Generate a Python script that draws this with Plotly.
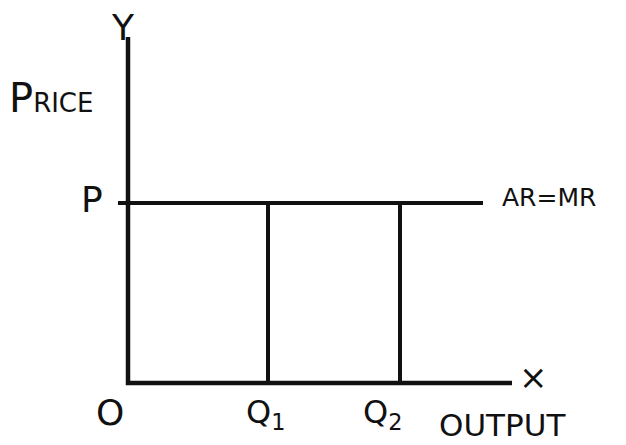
import plotly.graph_objects as go

# schematic values (origin O at 0,0)
price_p = 180
q_values = [140, 272]
q_labels = ["Q<sub>1</sub>", "Q<sub>2</sub>"]
x_axis_end = 384
y_axis_end = 346
ar_mr_end = 355

ink = "#111111"
font = "DejaVu Sans, Liberation Sans, sans-serif"

fig = go.Figure()

# axes
fig.add_trace(go.Scatter(x=[0, 0, x_axis_end], y=[y_axis_end, 0, 0], mode="lines",
                         line=dict(color=ink, width=4.5)))
# AR = MR line
fig.add_trace(go.Scatter(x=[-10, ar_mr_end], y=[price_p, price_p], mode="lines",
                         line=dict(color=ink, width=4)))
# verticals at Q1, Q2
for q in q_values:
    fig.add_trace(go.Scatter(x=[q, q], y=[0, price_p], mode="lines",
                             line=dict(color=ink, width=4)))

texts = [
    (-5, 356, "Y", 36),
    (-77, 285, "P<span style='font-size:26px'>RICE</span>", 40),
    (-36, price_p + 4, "P", 36),
    (ar_mr_end + 66, price_p + 6, "AR=MR", 25),
    (x_axis_end + 21, 6, "×", 34),
    (-18, -29, "O", 36),
    (374, -42, "OUTPUT", 31),
]
for x, y, t, s in texts:
    fig.add_annotation(x=x, y=y, text=t, showarrow=False,
                       font=dict(family=font, size=s, color=ink))
for q, lab, dx in zip(q_values, q_labels, [-3, -18]):
    fig.add_annotation(x=q + dx, y=-31, text=lab, showarrow=False,
                       font=dict(family=font, size=32, color=ink))

fig.update_xaxes(range=[-128, 498], visible=False)
fig.update_yaxes(range=[-62, 383], visible=False)
fig.update_layout(width=626, height=445, margin=dict(l=0, r=0, t=0, b=0),
                  showlegend=False, plot_bgcolor="white", paper_bgcolor="white")

fig.write_html("out.html", config={"displayModeBar": False},
               post_script="document.body.style.margin='0';")
